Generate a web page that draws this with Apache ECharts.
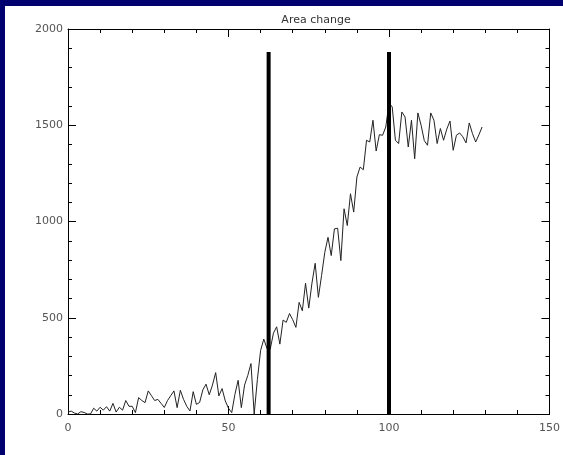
<!DOCTYPE html>
<html>
<head>
<meta charset="utf-8">
<script src="https://cdn.jsdelivr.net/npm/echarts@6/dist/echarts.min.js"></script>
<style>
  html, body { margin: 0; padding: 0; background: #ffffff; width: 563px; height: 455px; overflow: hidden; }
  #bandTop { position: absolute; left: 0; top: 0; width: 563px; height: 6px; background: #00006e; }
  #bandLeft { position: absolute; left: 0; top: 0; width: 5px; height: 455px; background: #00006e; }
  #chart { position: absolute; left: 0; top: 0; width: 563px; height: 455px; }
</style>
</head>
<body>
<div id="bandTop"></div>
<div id="bandLeft"></div>
<div id="chart"></div>
<script>
// ---- data ----
const titleText = "Area change";
const xValues = [
  0,1,2,3,4,5,6,7,8,9,10,11,12,13,14,15,16,17,18,19,
  20,21,22,23,24,25,26,27,28,29,30,31,32,33,34,35,36,37,38,39,
  40,41,42,43,44,45,46,47,48,49,50,51,52,53,54,55,56,57,58,59,
  60,61,62,63,64,65,66,67,68,69,70,71,72,73,74,75,76,77,78,79,
  80,81,82,83,84,85,86,87,88,89,90,91,92,93,94,95,96,97,98,99,
  100,101,102,103,104,105,106,107,108,109,110,111,112,113,114,115,116,117,118,119,
  120,121,122,123,124,125,126,127,128,129
];
const areaValues = [
  10,15,5,0,12,8,0,0,30,15,35,20,38,15,55,10,35,20,70,40,
  40,7,85,70,59,120,95,70,76,55,34,70,95,120,33,123,76,40,16,116,
  50,60,125,155,100,150,215,94,132,68,30,7,102,175,33,150,200,262,0,180,
  330,389,340,337,420,453,363,488,476,522,490,450,580,536,679,550,680,783,606,720,
  840,918,823,962,965,797,1066,979,1144,1049,1231,1283,1269,1422,1413,1526,1366,1451,1448,1491,
  1616,1595,1422,1405,1569,1543,1387,1526,1326,1564,1500,1420,1396,1564,1526,1405,1483,1422,1480,1522,
  1370,1448,1460,1440,1408,1512,1457,1413,1450,1491
];
const markerX = [62.5, 100];
const markerTop = 1880;
const xTicks = [0, 50, 100, 150];
const yTicks = [0, 500, 1000, 1500, 2000];

// ---- chart ----
const chart = echarts.init(document.getElementById('chart'), null, { renderer: 'canvas' });
const lineData = xValues.map((x, i) => [x, areaValues[i]]);
const axisCommon = {
  type: 'value',
  axisLine: { show: true, onZero: false, lineStyle: { color: '#000', width: 1 } },
  axisTick: { show: true, inside: true, length: 8, lineStyle: { color: '#000', width: 1 } },
  minorTick: { show: true, splitNumber: 5, length: 4, lineStyle: { color: '#000', width: 1 } },
  splitLine: { show: false },
  minorSplitLine: { show: false }
};
const labelStyle = {
  color: '#555', fontSize: 11, fontFamily: 'DejaVu Sans',
  formatter: (v) => String(v)
};

const markerSeries = markerX.map((mx) => ({
  type: 'line',
  data: [[mx, 0], [mx, markerTop]],
  symbol: 'none',
  lineStyle: { color: '#000', width: 4 },
  silent: true,
  animation: false,
  z: 3
}));

chart.setOption({
  animation: false,
  backgroundColor: 'transparent',
  title: {
    text: titleText,
    left: 311,
    top: 10,
    textAlign: 'center',
    textStyle: { color: '#333', fontSize: 11, fontWeight: 'normal', fontFamily: 'DejaVu Sans' }
  },
  grid: { left: 68, right: 10, top: 29, bottom: 41, containLabel: false },
  xAxis: [
    Object.assign({}, axisCommon, {
      position: 'bottom', min: xTicks[0], max: xTicks[xTicks.length - 1], interval: 50,
      axisLabel: Object.assign({ show: true, margin: 9 }, labelStyle)
    }),
    Object.assign({}, axisCommon, {
      position: 'top', min: xTicks[0], max: xTicks[xTicks.length - 1], interval: 50,
      axisLabel: { show: false }
    })
  ],
  yAxis: [
    Object.assign({}, axisCommon, {
      position: 'left', min: yTicks[0], max: yTicks[yTicks.length - 1], interval: 500,
      axisLabel: Object.assign({ show: true, margin: 5 }, labelStyle)
    }),
    Object.assign({}, axisCommon, {
      position: 'right', min: yTicks[0], max: yTicks[yTicks.length - 1], interval: 500,
      axisLabel: { show: false }
    })
  ],
  series: [
    {
      type: 'line',
      data: lineData,
      symbol: 'none',
      lineStyle: { color: '#222', width: 1 },
      z: 2
    }
  ].concat(markerSeries)
});
</script>
</body>
</html>
